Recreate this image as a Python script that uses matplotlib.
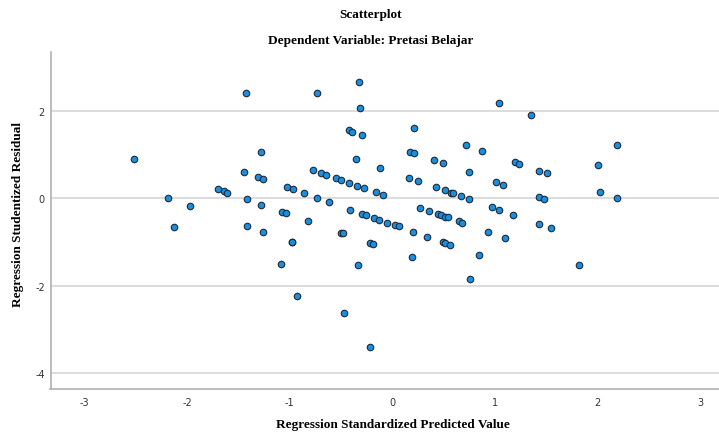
import numpy as np
import matplotlib
matplotlib.use("Agg")
import matplotlib.pyplot as plt

plt.rcParams["axes.unicode_minus"] = False

# Regression standardized predicted value (x) vs studentized residual (y)
pred = [-2.518, -2.184, -2.129, -1.973, -1.697, -1.639, -1.610, -1.431, -1.444, -1.418,
        -1.418, -1.308, -1.278, -1.259, -1.278, -1.262, -1.084, -1.071, -1.038, -1.028,
        -0.983, -0.974, -0.973, -0.928, -0.857, -0.818, -0.775, -0.733, -0.733, -0.694,
        -0.649, -0.619, -0.551, -0.500, -0.480, -0.497, -0.467, -0.428, -0.428, -0.415,
        -0.396, -0.357, -0.341, -0.331, -0.327, -0.314, -0.298, -0.298, -0.273, -0.259,
        -0.220, -0.214, -0.188, -0.175, -0.162, -0.132, -0.117, -0.091, -0.052, 0.020,
        0.065, 0.159, 0.172, 0.189, 0.202, 0.214, 0.214, 0.247, 0.270, 0.341,
        0.354, 0.409, 0.422, 0.442, 0.471, 0.490, 0.497, 0.510, 0.510, 0.513,
        0.539, 0.565, 0.575, 0.591, 0.649, 0.672, 0.676, 0.718, 0.747, 0.747,
        0.760, 0.841, 0.876, 0.929, 0.971, 1.010, 1.042, 1.042, 1.081, 1.094,
        1.178, 1.192, 1.237, 1.347, 1.431, 1.431, 1.431, 1.477, 1.503, 1.542,
        1.821, 2.000, 2.019, 2.185, 2.185]
resid = [0.908, 0.007, -0.650, -0.170, 0.206, 0.160, 0.130, 2.415, 0.603, -0.020,
         -0.635, 0.489, 1.062, 0.443, -0.146, -0.766, -1.514, -0.314, -0.344, 0.259,
         -0.995, -1.000, 0.213, -2.241, 0.115, -0.528, 0.649, 2.415, 0.014, 0.580,
         0.541, -0.085, 0.466, -0.789, -0.803, 0.420, -2.631, 1.567, 0.358, -0.261,
         1.528, 0.901, 0.289, -1.523, 2.675, 2.064, 1.452, -0.353, 0.229, -0.383,
         -1.018, -3.417, -1.041, -0.459, 0.144, -0.490, 0.703, 0.083, -0.567, -0.605,
         -0.635, 0.473, 1.070, -1.353, -0.766, 1.620, 1.032, 0.404, -0.222, -0.881,
         -0.291, 0.878, 0.252, -0.360, -0.383, 0.802, -1.009, 0.183, -0.422, -1.032,
         -0.436, -1.071, 0.122, 0.122, -0.528, 0.046, -0.560, 1.216, 0.596, -0.009,
         -1.851, -1.300, 1.085, -0.766, -0.200, 0.374, 2.186, -0.261, 0.312, -0.903,
         -0.376, 0.826, 0.787, 1.911, 0.626, 0.030, -0.589, -0.016, 0.573, -0.674,
         -1.523, 0.764, 0.138, 1.222, 0.000]

x_ticks = [-3, -2, -1, 0, 1, 2, 3]
y_ticks = [-4, -2, 0, 2]

fig = plt.figure(figsize=(7.19, 4.35), dpi=100)
ax = fig.add_axes([50.5 / 719, 1 - 390 / 435, 1 - 50.5 / 719, (390 - 52.7) / 435])

ax.scatter(pred, resid, s=22, c="#1a8fe0", edgecolors="#1b2a3a", linewidths=0.8, zorder=3)

ax.set_xlim(-3.33, 3.18)
ax.set_ylim(-4.37, 3.36)
ax.set_xticks(x_ticks)
ax.set_yticks(y_ticks)
ax.tick_params(length=0, labelsize=7, colors="#333333")
ax.tick_params(axis="x", pad=6)
ax.tick_params(axis="y", pad=4)
ax.grid(axis="y", color="#d9d9d9", linewidth=1.3, zorder=0)
ax.set_axisbelow(True)

for side in ["top", "right"]:
    ax.spines[side].set_visible(False)
for side in ["left", "bottom"]:
    ax.spines[side].set_color("#b0b0b0")
    ax.spines[side].set_linewidth(1.2)

font = {"family": "Liberation Serif", "weight": "bold", "size": 9.5}
fig.text(371 / 719, 1 - 15 / 435, "Scatterplot", ha="center", va="center", **font)
fig.text(371 / 719, 1 - 41 / 435, "Dependent Variable: Pretasi Belajar", ha="center", va="center", **font)
fig.text(393 / 719, 1 - 425 / 435, "Regression Standardized Predicted Value", ha="center", va="center", **font)
fig.text(18 / 719, 1 - 215 / 435, "Regression Studentized Residual", ha="center", va="center",
         rotation=90, **font)

plt.savefig("out.png", dpi=100)
